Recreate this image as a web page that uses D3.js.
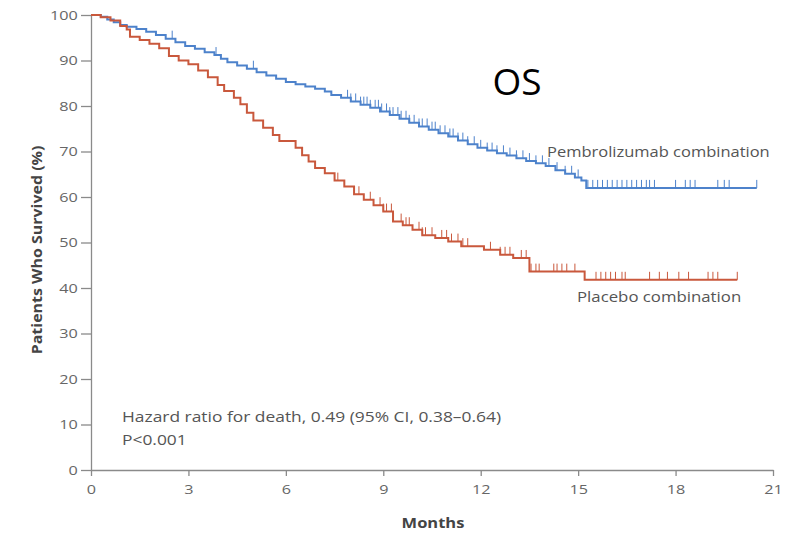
<!DOCTYPE html>
<meta charset="utf-8">
<style>
body { margin: 0; background: #fff; }
svg { display: block; }
.axis path, .axis line { stroke: #8a8a8a; stroke-width: 1.3px; }
.axis text { fill: #666; font-family: "Open Sans", sans-serif; font-size: 13.5px; }
.curve { fill: none; stroke-width: 2px; }
.label { fill: #555; font-family: "Open Sans", sans-serif; font-size: 15px; }
</style>
<svg width="785" height="538"></svg>
<script src="https://d3js.org/d3.v7.min.js"></script>
<script>

// step points of the KM curves: months, survival %
var pembroTime = [0, 0.3, 0.5, 0.7, 0.9, 1.1, 1.4, 1.7, 2.0, 2.3, 2.6, 2.9, 3.2, 3.5, 3.8, 4.0, 4.2, 4.5, 4.8, 5.1, 5.4, 5.7, 6.0, 6.3, 6.6, 6.9, 7.2, 7.4, 7.7, 8.0, 8.3, 8.6, 8.9, 9.2, 9.5, 9.8, 10.1, 10.4, 10.7, 11.0, 11.3, 11.6, 11.9, 12.2, 12.5, 12.8, 13.1, 13.4, 13.7, 14.0, 14.3, 14.6, 14.9, 15.1, 15.25, 20.5];
var pembroSurv = [100, 99.6, 99, 98.4, 97.8, 97.4, 96.9, 96.3, 95.6, 94.8, 94, 93.2, 92.6, 91.8, 91.2, 90.4, 89.6, 88.9, 88.2, 87.4, 86.7, 86, 85.3, 84.8, 84.3, 83.8, 83.2, 82.4, 81.8, 81, 80.3, 79.6, 78.8, 78, 77.2, 76.3, 75.5, 74.8, 74, 73.3, 72.4, 71.6, 70.8, 70.2, 69.6, 69.1, 68.5, 67.9, 67.4, 66.8, 65.9, 65.1, 64.3, 63.6, 62, 62];

var placeboTime = [0, 0.3, 0.6, 0.9, 1.1, 1.2, 1.5, 1.8, 2.1, 2.4, 2.7, 3.0, 3.3, 3.6, 3.9, 4.1, 4.4, 4.6, 4.8, 5.0, 5.3, 5.6, 5.8, 6.3, 6.5, 6.7, 6.9, 7.2, 7.5, 7.8, 8.1, 8.4, 8.7, 9.0, 9.3, 9.6, 9.9, 10.2, 10.6, 11.0, 11.4, 12.1, 12.6, 13.0, 13.5, 15.2, 19.9];
var placeboSurv = [100, 99.5, 98.8, 97.6, 96.8, 95.2, 94.5, 93.7, 92.7, 91, 90, 89.2, 87.8, 86.3, 84.6, 83.3, 81.8, 80.4, 78.5, 76.8, 75.2, 73.6, 72.3, 70.8, 69.2, 67.8, 66.4, 65.2, 63.6, 62.3, 60.6, 59.4, 58.2, 56.8, 54.6, 53.8, 52.8, 51.6, 51, 50.2, 49.2, 48.4, 47.3, 46.6, 43.6, 41.8, 41.8];

// censoring marks (months)
var pembroCensor = [2.5, 3.85, 5.0, 7.9, 8.0, 8.15, 8.3, 8.4, 8.5, 8.6, 8.75, 8.85, 8.95, 9.1, 9.2, 9.3, 9.45, 9.55, 9.7, 9.8, 9.95, 10.1, 10.2, 10.35, 10.5, 10.6, 10.75, 10.9, 11.05, 11.15, 11.3, 11.45, 11.6, 11.8, 12.0, 12.2, 12.35, 12.5, 12.7, 12.9, 13.1, 13.3, 13.5, 13.7, 13.9, 14.1, 14.35, 14.6, 14.8, 15.0, 15.3, 15.45, 15.6, 15.75, 15.9, 16.05, 16.2, 16.35, 16.5, 16.65, 16.8, 16.95, 17.1, 17.2, 17.35, 18.0, 18.3, 18.45, 18.6, 19.3, 19.5, 19.65, 20.5];
var placeboCensor = [7.6, 8.25, 8.6, 8.9, 9.0, 9.1, 9.25, 9.55, 9.7, 9.8, 10.1, 10.2, 10.3, 10.5, 10.8, 10.95, 11.1, 11.3, 11.45, 11.6, 12.3, 12.6, 12.75, 12.9, 13.25, 13.4, 13.55, 13.7, 13.8, 14.25, 14.35, 14.5, 14.65, 14.9, 15.55, 15.7, 15.85, 16.0, 16.15, 16.35, 16.45, 17.2, 17.5, 17.75, 18.1, 18.4, 19.0, 19.15, 19.3, 19.9];

var xTicks = [0, 3, 6, 9, 12, 15, 18, 21];
var yTicks = [0, 10, 20, 30, 40, 50, 60, 70, 80, 90, 100];

var svg = d3.select("svg"),
    margin = {top: 15, right: 12, bottom: 68, left: 91},
    width = svg.attr("width") - margin.left - margin.right,
    height = svg.attr("height") - margin.top - margin.bottom,
    g = svg.append("g").attr("transform", "translate(" + margin.left + "," + margin.top + ")");

var x = d3.scaleLinear().domain([0, 21]).range([0, width]),
    y = d3.scaleLinear().domain([0, 100]).range([height, 0]);

var line = d3.line()
    .curve(d3.curveStepAfter)
    .x(function(d) { return x(d[0]); })
    .y(function(d) { return y(d[1]); });

function pairs(t, s) { return t.map(function(v, i) { return [v, s[i]]; }); }

function survAt(t, s, time) {
  var v = s[0];
  for (var i = 0; i < t.length; ++i) if (t[i] <= time) v = s[i];
  return v;
}

g.append("g")
    .attr("class", "axis")
    .attr("transform", "translate(0," + height + ")")
    .call(d3.axisBottom(x).tickValues(xTicks).tickSize(6).tickSizeOuter(0).tickPadding(8))
  .selectAll("text")
    .attr("transform", "scale(1.2,1)");

g.append("g")
    .attr("class", "axis")
    .call(d3.axisLeft(y).tickValues(yTicks).tickSize(10).tickSizeOuter(0).tickPadding(1))
  .selectAll("text")
    .attr("transform", "scale(1.2,1)");

var arms = [
  {t: pembroTime, s: pembroSurv, c: pembroCensor, color: "#4d82cb"},
  {t: placeboTime, s: placeboSurv, c: placeboCensor, color: "#c9583c"}
];

arms.forEach(function(a) {
  g.append("path")
      .attr("class", "curve")
      .attr("d", line(pairs(a.t, a.s)))
      .style("stroke", a.color);

  g.selectAll(null)
    .data(a.c)
    .enter().append("line")
      .attr("x1", function(d) { return x(d); })
      .attr("x2", function(d) { return x(d); })
      .attr("y1", function(d) { return y(survAt(a.t, a.s, d)); })
      .attr("y2", function(d) { return y(survAt(a.t, a.s, d)) - 8; })
      .style("stroke", a.color)
      .style("stroke-width", 1);
});

function label(px, py, sx, txt) {
  return svg.append("text")
      .attr("class", "label")
      .attr("transform", "translate(" + px + "," + py + ") scale(" + sx + ",1)")
      .text(txt);
}

label(547, 157, 1.1, "Pembrolizumab combination");
label(577, 302, 1.12, "Placebo combination");
label(122, 422, 1.16, "Hazard ratio for death, 0.49 (95% CI, 0.38\u20130.64)");
label(122, 445, 1.16, "P<0.001");

svg.append("text")
    .attr("transform", "translate(433,528) scale(1.1,1)")
    .style("font-family", "Open Sans, sans-serif")
    .style("font-size", "15px")
    .style("font-weight", "bold")
    .style("fill", "#444")
    .style("text-anchor", "middle")
    .text("Months");

svg.append("text")
    .attr("transform", "translate(42,250) rotate(-90) scale(1.14,1)")
    .style("font-family", "Open Sans, sans-serif")
    .style("font-size", "14px")
    .style("font-weight", "bold")
    .style("fill", "#444")
    .style("text-anchor", "middle")
    .text("Patients Who Survived (%)");

svg.append("text")
    .attr("x", 517).attr("y", 95)
    .style("font-family", "Open Sans, sans-serif")
    .style("font-size", "37px")
    .style("fill", "#000")
    .style("text-anchor", "middle")
    .text("OS");
</script>
